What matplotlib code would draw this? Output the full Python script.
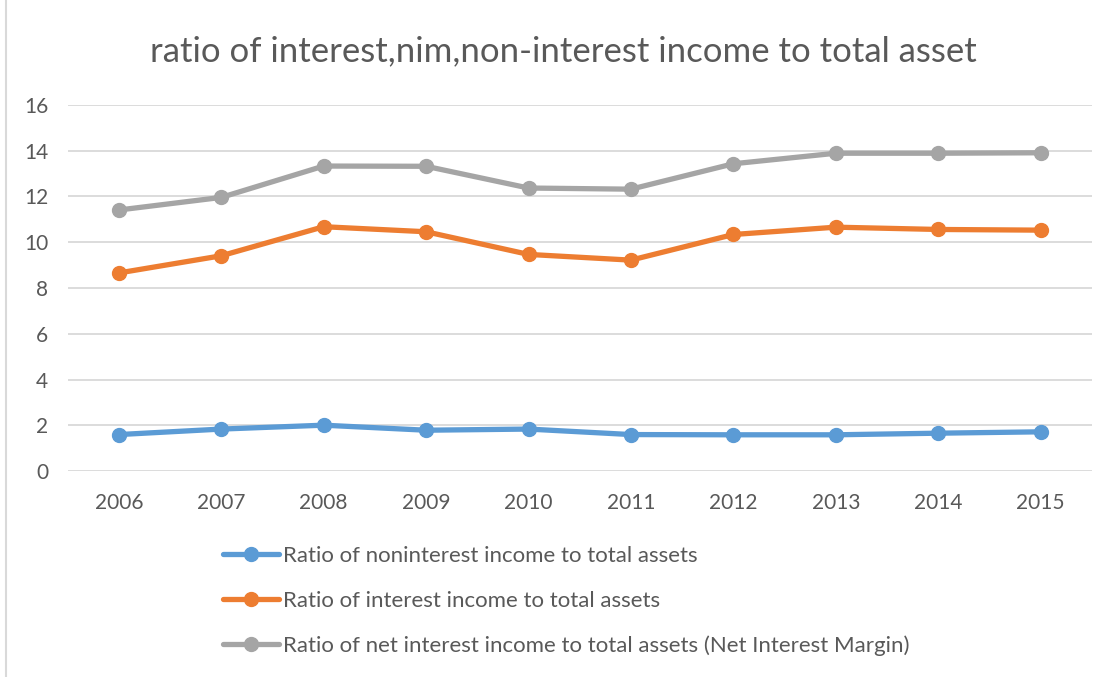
import matplotlib.pyplot as plt
from matplotlib.lines import Line2D

plt.rcParams['font.family'] = ['Lato', 'DejaVu Sans']

years = ['2006', '2007', '2008', '2009', '2010', '2011', '2012', '2013', '2014', '2015']
nonint = [1.60, 1.84, 2.01, 1.79, 1.84, 1.60, 1.59, 1.59, 1.66, 1.72]
interest = [8.66, 9.41, 10.68, 10.46, 9.47, 9.22, 10.34, 10.66, 10.56, 10.53]
nim = [11.41, 11.96, 13.33, 13.32, 12.37, 12.32, 13.43, 13.89, 13.89, 13.91]

labels = ['Ratio of noninterest income to total assets',
          'Ratio of interest income to total assets',
          'Ratio of net interest income to total assets (Net Interest Margin)']
colors = ['#5B9BD5', '#ED7D31', '#A5A5A5']
txt = '#595959'

fig = plt.figure(figsize=(11.17, 6.77), dpi=100)
ax = fig.add_axes([0.0605, 0.304, 0.917, 0.541])

x = range(len(years))
for ys, lab, c in zip([nonint, interest, nim], labels, colors):
    ax.plot(x, ys, color=c, lw=3.8, marker='o', ms=10, label=lab,
            solid_capstyle='round', zorder=3)

ax.set_xlim(-0.5, len(years) - 0.5)
ax.set_ylim(0, 16)
ax.set_yticks(range(0, 17, 2))
ax.set_xticks(list(x))
ax.set_xticklabels(years)
ax.grid(axis='y', color='#D9D9D9', lw=1.3)
ax.set_axisbelow(True)
for s in ax.spines.values():
    s.set_visible(False)
ax.tick_params(length=0, labelsize=15, labelcolor=txt)
ax.tick_params(axis='y', pad=14)
ax.tick_params(axis='x', pad=16)

fig.text(0.504, 0.925, 'ratio of interest,nim,non-interest income to total asset',
         ha='center', va='center', fontsize=25, color=txt)

fig.legend(loc='upper left', bbox_to_anchor=(0.192, 0.207), frameon=False,
           fontsize=16, labelcolor=txt, handlelength=2.5, handletextpad=0.18,
           labelspacing=1.12, borderaxespad=0)

# chart area edge on the left
fig.add_artist(Line2D([0.005, 0.005], [0, 1], color='#D9D9D9', lw=1.5))

fig.savefig('out.png', dpi=100)
